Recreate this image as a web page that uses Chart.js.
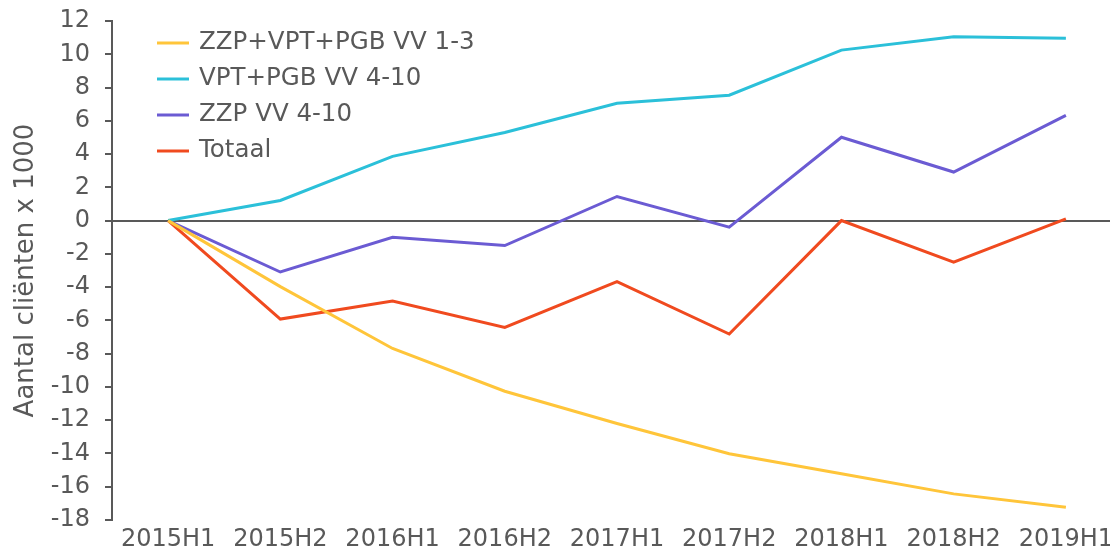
<!DOCTYPE html>
<html>
<head>
<meta charset="utf-8">
<script src="https://cdn.jsdelivr.net/npm/chart.js@4"></script>
<style>
	html, body { margin: 0; padding: 0; background: #fff; }
	#frame { width: 1110px; height: 554px; overflow: hidden; }
	#holder { width: 1122px; height: 554px; }
</style>
</head>
<body>
<div id="frame"><div id="holder"><canvas id="chart"></canvas></div></div>
<script>
const periods = ["2015H1", "2015H2", "2016H1", "2016H2", "2017H1", "2017H2", "2018H1", "2018H2", "2019H1"];
const zzp_vpt_pgb_13 = [0, -3.97, -7.69, -10.26, -12.2, -14.02, -15.22, -16.43, -17.23];
const vpt_pgb_410 = [0, 1.21, 3.86, 5.3, 7.05, 7.54, 10.25, 11.05, 10.96];
const zzp_410 = [0, -3.09, -1.0, -1.5, 1.45, -0.39, 5.01, 2.92, 6.33];
const totaal = [0, -5.92, -4.83, -6.42, -3.67, -6.82, 0.0, -2.5, 0.1];
const y_min = -18;
const y_max = 12;
const y_step = 2;

const text_color = "#595959";
const font_family = "'DejaVu Sans', Verdana, sans-serif";

function make_line(label, values, color) {
	return {
		label: label,
		data: values,
		borderColor: color,
		backgroundColor: color,
		borderWidth: 3,
		pointRadius: 0,
		tension: 0,
		fill: false
	};
}

// y axis line, only between the first and last tick
const axis_line = {
	id: "axis_line",
	beforeDatasetsDraw(chart) {
		const ctx = chart.ctx;
		const y = chart.scales.y;
		const x = chart.chartArea.left;
		ctx.save();
		ctx.strokeStyle = text_color;
		ctx.lineWidth = 2;
		ctx.beginPath();
		ctx.moveTo(x, y.getPixelForValue(y_max) - 1);
		ctx.lineTo(x, y.getPixelForValue(y_min) + 1);
		ctx.stroke();
		ctx.restore();
	}
};

// legend drawn inside the plot, top left
const inline_legend = {
	id: "inline_legend",
	afterDatasetsDraw(chart) {
		const ctx = chart.ctx;
		const x = chart.chartArea.left + 45;
		let y = chart.scales.y.getPixelForValue(y_max) + 22;
		ctx.save();
		ctx.font = "24.5px " + font_family;
		ctx.textBaseline = "middle";
		chart.data.datasets.forEach(ds => {
			ctx.strokeStyle = ds.borderColor;
			ctx.lineWidth = 3;
			ctx.beginPath();
			ctx.moveTo(x, y);
			ctx.lineTo(x + 32, y);
			ctx.stroke();
			ctx.fillStyle = text_color;
			ctx.fillText(ds.label, x + 42, y);
			y += 36;
		});
		ctx.restore();
	}
};

const ctx = document.getElementById("chart");
const data = {
	labels: periods,
	datasets: [
		make_line("ZZP+VPT+PGB VV 1-3", zzp_vpt_pgb_13, "#FFC53A"),
		make_line("VPT+PGB VV 4-10", vpt_pgb_410, "#2BC0D9"),
		make_line("ZZP VV 4-10", zzp_410, "#6B5BD3"),
		make_line("Totaal", totaal, "#F04A1F")
	]
};

const options = {
	responsive: true,
	maintainAspectRatio: false,
	animation: false,
	layout: {
		padding: { top: 21, right: 0, left: 0, bottom: 0 }
	},
	scales: {
		x: {
			offset: true,
			grid: { display: false, drawTicks: false },
			border: { display: false },
			ticks: {
				color: text_color,
				font: { family: font_family, size: 24 },
				padding: 5,
				maxRotation: 0,
				autoSkip: false
			},
			afterFit: scale => { scale.height = 34; }
		},
		y: {
			min: y_min,
			max: y_max,
			grid: {
				color: c => c.tick && c.tick.value === 0 ? text_color : "transparent",
				lineWidth: 2,
				tickColor: text_color,
				tickLength: 7,
				drawTicks: true
			},
			border: { display: false },
			ticks: {
				stepSize: y_step,
				color: text_color,
				font: { family: font_family, size: 24 },
				padding: 15
			},
			title: {
				display: true,
				text: "Aantal cliënten x 1000",
				color: text_color,
				font: { family: font_family, size: 26 },
				padding: { top: 11, bottom: 0 }
			},
			afterFit: scale => {
				scale.width = 112;
				scale.paddingTop = 0;
				scale.paddingBottom = 0;
			}
		}
	},
	plugins: {
		legend: { display: false },
		tooltip: { enabled: false }
	}
};

new Chart(ctx, {
	type: "line",
	data: data,
	options: options,
	plugins: [axis_line, inline_legend]
});
</script>
</body>
</html>
